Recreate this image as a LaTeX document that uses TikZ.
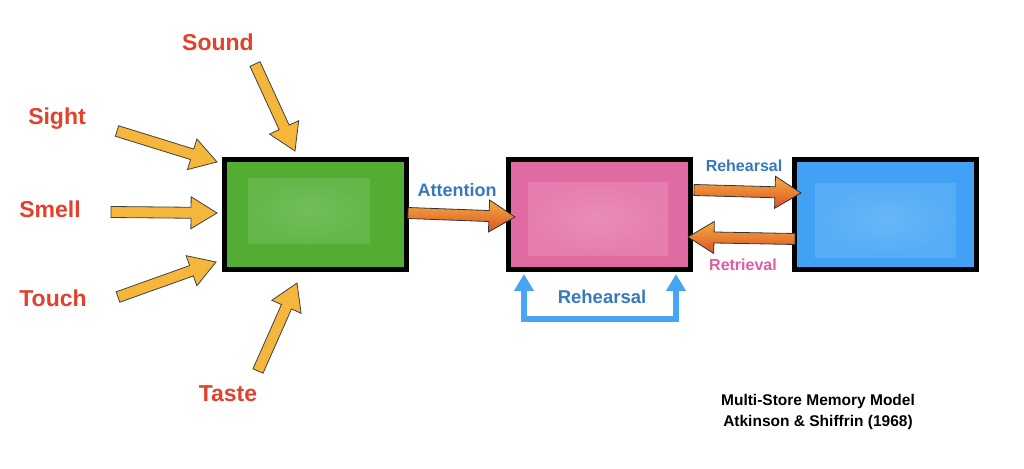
\documentclass[tikz,border=0pt]{standalone}
\usepackage{fontspec}
\setmainfont{Liberation Sans}
\usetikzlibrary{calc,arrows.meta}
\definecolor{sensered}{HTML}{E2412B}
\definecolor{lblblue}{HTML}{3679BF}
\definecolor{lblpink}{HTML}{E35C9E}
\definecolor{yarrow}{HTML}{F5B63C}
\definecolor{ortop}{HTML}{F5AE40}
\definecolor{ormid}{HTML}{EA8530}
\definecolor{orbot}{HTML}{DB5227}
\definecolor{gbase}{HTML}{52AD32}
\definecolor{glight}{HTML}{72BE5B}
\definecolor{pbase}{HTML}{E06AA2}
\definecolor{plight}{HTML}{E98DB7}
\definecolor{bbase}{HTML}{40A1F5}
\definecolor{blight}{HTML}{68B6F7}
\definecolor{loopblue}{HTML}{46A6F5}
\tikzset{
  fat/.style={to path={
    ($(\tikztostart)!5.5pt!90:(\tikztotarget)$)
    -- ($(\tikztotarget)!26pt!(\tikztostart)!5.5pt!-90:(\tikztostart)$)
    -- ($(\tikztotarget)!26pt!(\tikztostart)!16pt!-90:(\tikztostart)$)
    -- (\tikztotarget)
    -- ($(\tikztotarget)!26pt!(\tikztostart)!16pt!90:(\tikztostart)$)
    -- ($(\tikztotarget)!26pt!(\tikztostart)!5.5pt!90:(\tikztostart)$)
    -- ($(\tikztostart)!5.5pt!-90:(\tikztotarget)$) -- cycle}},
  yarr/.style={fat, fill=yarrow, draw=black!75, line width=0.8pt, line join=miter},
  oarr/.style={fat, top color=ortop, middle color=ormid, bottom color=orbot, draw=black!80, line width=0.8pt, line join=miter},
  store/.style={draw=black, line width=5pt, minimum width=182pt, minimum height=110pt, inner sep=0pt},
  sense/.style={text=sensered, font=\fontsize{23}{27}\selectfont\bfseries},
  flowlbl/.style={font=\fontsize{16}{19}\selectfont\bfseries},
  title/.style={font=\fontsize{15.5}{18}\selectfont\bfseries, text=black},
  loopline/.style={draw=loopblue, line width=6pt, line join=miter,
    {Triangle[width=19pt,length=17pt]}-{Triangle[width=19pt,length=17pt]}}
}
\begin{document}
\begin{tikzpicture}[x=1pt,y=-1pt]
\useasboundingbox (0,0) rectangle (1024,468);
\fill[white] (0,0) rectangle (1024,468);

% stores
\node[store, fill=gbase] (sens) at (315.5,214.5) {};
\node[store, fill=pbase] (stm) at (599.5,214.5) {};
\node[store, fill=bbase] (ltm) at (885.5,214.5) {};
\shade[inner color=glight, outer color=gbase!45!glight] (248,178) rectangle (370,243);
\shade[inner color=plight, outer color=pbase!45!plight] (528,182) rectangle (668,255);
\shade[inner color=blight, outer color=bbase!45!blight] (815,183) rectangle (956,257);

% sensory labels
\node[sense] (sound) at (218,42) {Sound};
\node[sense] (sight) at (57,119) {Sight};
\node[sense] (smell) at (50,209) {Smell};
\node[sense] (touch) at (53,298) {Touch};
\node[sense] (taste) at (228,394) {Taste};

% sensory arrows
\coordinate (soundA) at (255,64);   \coordinate (soundB) at (295,151);
\coordinate (sightA) at (117,131);  \coordinate (sightB) at (217,162);
\coordinate (smellA) at (111,212);  \coordinate (smellB) at (217,213);
\coordinate (touchA) at (118,297);  \coordinate (touchB) at (216,262);
\coordinate (tasteA) at (258,371);  \coordinate (tasteB) at (297,283);
\path[yarr] (soundA) to (soundB);
\path[yarr] (sightA) to (sightB);
\path[yarr] (smellA) to (smellB);
\path[yarr] (touchA) to (touchB);
\path[yarr] (tasteA) to (tasteB);

% flow arrows
\coordinate (attA) at (408,213);  \coordinate (attB) at (515,217);
\coordinate (rehA) at (694,190);  \coordinate (rehB) at (801,193);
\coordinate (retA) at (795,239);  \coordinate (retB) at (688,237);
\path[oarr] (attA) to (attB);
\path[oarr] (rehA) to (rehB);
\path[oarr] (retA) to (retB);

\node[flowlbl, text=lblblue, font=\fontsize{18}{21}\selectfont\bfseries] (att) at (457,190) {Attention};
\node[flowlbl, text=lblblue] (reh1) at (744,166) {Rehearsal};
\node[flowlbl, text=lblpink] (ret) at (743,265) {Retrieval};

% maintenance rehearsal loop
\coordinate (loopL) at (524,274);
\coordinate (loopR) at (676,274);
\coordinate (loopBot) at (600,319);
\draw[loopline] (loopL) -- (loopL |- loopBot) -- (loopR |- loopBot) -- (loopR);
\node[flowlbl, text=lblblue, font=\fontsize{18.5}{21}\selectfont\bfseries] (reh2) at (602,297) {Rehearsal};

% title
\node[title] (t1) at (818,401) {Multi-Store Memory Model};
\node[title] (t2) at (818,422) {Atkinson \& Shiffrin (1968)};
\end{tikzpicture}
\end{document}
